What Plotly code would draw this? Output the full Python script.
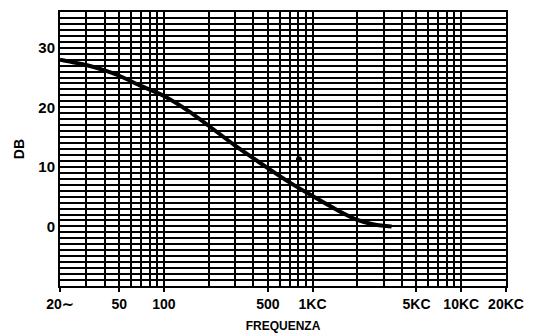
import plotly.graph_objects as go

# Data
freq_hz = [20, 30, 40, 50, 70, 100, 150, 200, 300, 500, 700, 1000, 1500, 2000, 2500, 3000, 3400]
gain_db = [28.0, 27.1, 26.2, 25.3, 23.6, 21.9, 19.2, 16.9, 13.6, 9.8, 7.4, 5.1, 2.6, 1.1, 0.4, 0.1, 0.0]
spot_hz = [810]
spot_db = [11.3]

x_tick_vals = [20, 50, 100, 500, 1000, 5000, 10000, 20000]
x_tick_text = ["20∼", "50", "100", "500", "1KC", "5KC", "10KC", "20KC"]
x_minor_vals = [30, 40, 60, 70, 80, 90, 200, 300, 400, 600, 700, 800, 900,
                2000, 3000, 4000, 6000, 7000, 8000, 9000]
y_grid_vals = list(range(-10, 37))
y_label_vals = [0, 10, 20, 30]

y_text = [str(v) if v in y_label_vals else "" for v in y_grid_vals]

fig = go.Figure()
fig.add_trace(go.Scatter(x=freq_hz, y=gain_db, mode="lines",
                         line=dict(color="black", width=4, shape="spline", smoothing=0.6),
                         showlegend=False))
fig.add_trace(go.Scatter(x=spot_hz, y=spot_db, mode="markers",
                         marker=dict(color="black", size=6),
                         showlegend=False))

fam = "Liberation Sans, Arial, sans-serif"
font = dict(family=fam, color="black", size=13, weight="bold")

# page body has an 8px margin, so the figure is sized to fit inside the window
fig.update_layout(
    width=532, height=325,
    margin=dict(l=52, r=34, t=4, b=47),
    paper_bgcolor="white", plot_bgcolor="white",
    font=font,
    xaxis=dict(
        type="log", range=[1.30103, 4.30103], automargin=False,
        tickvals=x_tick_vals, ticktext=x_tick_text,
        ticks="outside", ticklen=4, tickwidth=2, tickcolor="black",
        showgrid=True, gridcolor="black", gridwidth=2,
        minor=dict(tickvals=x_minor_vals, showgrid=True, gridcolor="black", gridwidth=2, ticks=""),
        showline=True, linecolor="black", linewidth=2, mirror=True,
        zeroline=False,
        tickfont=dict(size=14, weight="bold", family=fam),
        title=dict(text="FREQUENZA", standoff=14,
                   font=dict(size=12, weight="bold", family=fam)),
    ),
    yaxis=dict(
        range=[-10, 36], automargin=False,
        tickvals=y_grid_vals, ticktext=y_text,
        ticks="", showgrid=True, gridcolor="black", gridwidth=1.6,
        showline=True, linecolor="black", linewidth=2, mirror=True,
        zeroline=False,
        tickfont=dict(size=15, weight="bold", family=fam),
        title=dict(text="DB", standoff=10,
                   font=dict(size=14, weight="bold", family=fam)),
    ),
)

fig.write_html("out.html")
